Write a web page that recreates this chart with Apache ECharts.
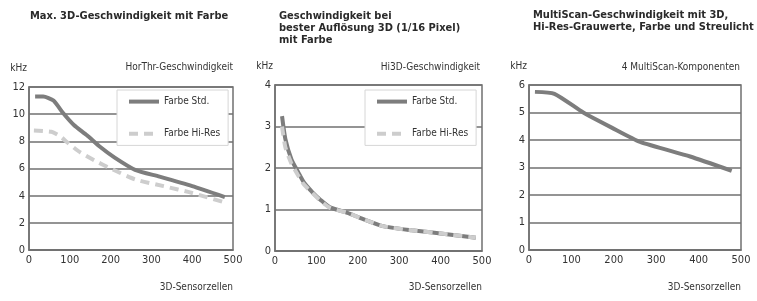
<!DOCTYPE html>
<html>
<head>
<meta charset="utf-8">
<script src="https://cdn.jsdelivr.net/npm/echarts@6/dist/echarts.min.js"></script>
<style>
  html, body { margin: 0; padding: 0; background: #fff; }
  #chart { width: 757px; height: 301px; }
</style>
</head>
<body>
<div id="chart"></div>
<script>
// Diagramm 1: Max. 3D-Geschwindigkeit mit Farbe
const horStdX = [15, 35, 60, 83, 110, 142, 174, 210, 260, 320, 400, 480];
const horStdY = [11.3, 11.3, 11.0, 10.1, 9.2, 8.45, 7.6, 6.8, 5.9, 5.4, 4.7, 3.9];
const horHiX = [12, 55, 75, 95, 125, 160, 200, 260, 330, 400, 480];
const horHiY = [8.8, 8.7, 8.4, 7.9, 7.2, 6.6, 6.0, 5.2, 4.7, 4.2, 3.5];

// Diagramm 2: Hi3D
const hi3dStdX = [17, 25, 40, 56, 70, 90, 110, 133, 175, 205, 260, 330, 420, 485];
const hi3dStdY = [3.25, 2.7, 2.2, 1.9, 1.65, 1.42, 1.23, 1.05, 0.92, 0.8, 0.6, 0.5, 0.4, 0.32];
const hi3dHiX = [17, 25, 40, 56, 70, 90, 110, 133, 175, 205, 260, 330, 420, 485];
const hi3dHiY = [3.0, 2.5, 2.1, 1.82, 1.6, 1.4, 1.21, 1.04, 0.92, 0.8, 0.6, 0.5, 0.4, 0.32];

// Diagramm 3: MultiScan
const msX = [14, 60, 128, 195, 262, 380, 478];
const msY = [5.75, 5.68, 5.0, 4.45, 3.93, 3.4, 2.88];

const titles = [
  'Max. 3D-Geschwindigkeit mit Farbe',
  'Geschwindigkeit bei\nbester Auflösung 3D (1/16 Pixel)\nmit Farbe',
  'MultiScan-Geschwindigkeit mit 3D,\nHi-Res-Grauwerte, Farbe und Streulicht'
];
const subTitles = ['HorThr-Geschwindigkeit', 'Hi3D-Geschwindigkeit', '4 MultiScan-Komponenten'];
const xName = '3D-Sensorzellen';

function pairs(xs, ys) { return xs.map((x, i) => [x, ys[i]]); }

const FONT = '"Liberation Sans Narrow", "DejaVu Sans Condensed", sans-serif';
const dark = '#7d7d7d';
const light = '#cdcdcd';
const gridLine = '#707070';

const grids = [
  { left: 29, right: 524, top: 87, bottom: 51 },
  { left: 275, right: 275, top: 85, bottom: 50 },
  { left: 529, right: 16, top: 85, bottom: 51 }
];
const yMax = [12, 4, 6];
const yInt = [2, 1, 1];

const myChart = echarts.init(document.getElementById('chart'));

const title = [];
titles.forEach((t, i) => {
  title.push({
    text: t, left: [30, 279, 533][i], top: [10, 10, 9][i], padding: 0,
    textStyle: { fontFamily: FONT, fontSize: 11, fontWeight: 'bold', color: '#2a2a2a', lineHeight: 12 }
  });
  title.push({
    text: subTitles[i], right: [524, 277, 17][i], top: 62, padding: 0,
    textStyle: { fontFamily: FONT, fontSize: 10, fontWeight: 'normal', color: '#333' }
  });
  title.push({
    text: xName, right: [524, 275, 16][i], top: 282, padding: 0,
    textStyle: { fontFamily: FONT, fontSize: 10, fontWeight: 'normal', color: '#333' }
  });
});

const options = {
  animation: false,
  backgroundColor: '#fff',
  title: title,
  grid: grids.map(g => Object.assign({ show: true, borderColor: gridLine, borderWidth: 1.5, backgroundColor: '#fff' }, g)),
  xAxis: grids.map((g, i) => ({
    type: 'value', gridIndex: i, min: 0, max: 500, interval: 100,
    axisLine: { show: true, lineStyle: { color: gridLine, width: 1.5 } },
    axisTick: { show: false },
    splitLine: { show: false },
    axisLabel: { fontFamily: FONT, fontSize: 11, color: '#333', margin: 5 }
  })),
  yAxis: grids.map((g, i) => ({
    type: 'value', gridIndex: i, min: 0, max: yMax[i], interval: yInt[i],
    name: 'kHz', nameLocation: 'end', nameGap: 14,
    nameTextStyle: { fontFamily: FONT, fontSize: 10, color: '#333', align: 'right', padding: [0, 2, 0, 0] },
    axisLine: { show: true, lineStyle: { color: gridLine, width: 1.5 } },
    axisTick: { show: false },
    splitLine: { show: true, lineStyle: { color: gridLine, width: 1.5 } },
    axisLabel: { fontFamily: FONT, fontSize: 11, color: '#333', margin: 4 }
  })),
  legend: [0, 1].map(i => ({
    orient: 'vertical',
    left: [117, 365][i], top: 90,
    data: ['Farbe Std.', 'Farbe Hi-Res'],
    backgroundColor: '#fff',
    borderColor: '#d6d6d6', borderWidth: 1,
    padding: [6, 8, 6, 10],
    itemWidth: 30, itemHeight: 14, itemGap: 21,
    itemStyle: { opacity: 0 },
    lineStyle: { width: 4 },
    textStyle: { fontFamily: FONT, fontSize: 10, color: '#333' }
  })),
  series: [
    { name: 'Farbe Hi-Res', type: 'line', xAxisIndex: 0, yAxisIndex: 0, data: pairs(horHiX, horHiY),
      symbol: 'none', smooth: 0.2, color: light, lineStyle: { color: light, width: 4, type: [9, 6] } },
    { name: 'Farbe Std.', type: 'line', xAxisIndex: 0, yAxisIndex: 0, data: pairs(horStdX, horStdY),
      symbol: 'none', smooth: 0.2, color: dark, lineStyle: { color: dark, width: 4 } },
    { name: 'Farbe Std.', type: 'line', xAxisIndex: 1, yAxisIndex: 1, data: pairs(hi3dStdX, hi3dStdY),
      symbol: 'none', smooth: 0.2, color: dark, lineStyle: { color: dark, width: 4 } },
    { name: 'Farbe Hi-Res', type: 'line', xAxisIndex: 1, yAxisIndex: 1, data: pairs(hi3dHiX, hi3dHiY),
      symbol: 'none', smooth: 0.2, color: light, lineStyle: { color: light, width: 4, type: [9, 6] } },
    { name: 'MultiScan', type: 'line', xAxisIndex: 2, yAxisIndex: 2, data: pairs(msX, msY),
      symbol: 'none', smooth: 0.2, color: dark, lineStyle: { color: dark, width: 4 } }
  ]
};
myChart.setOption(options);
</script>
</body>
</html>
